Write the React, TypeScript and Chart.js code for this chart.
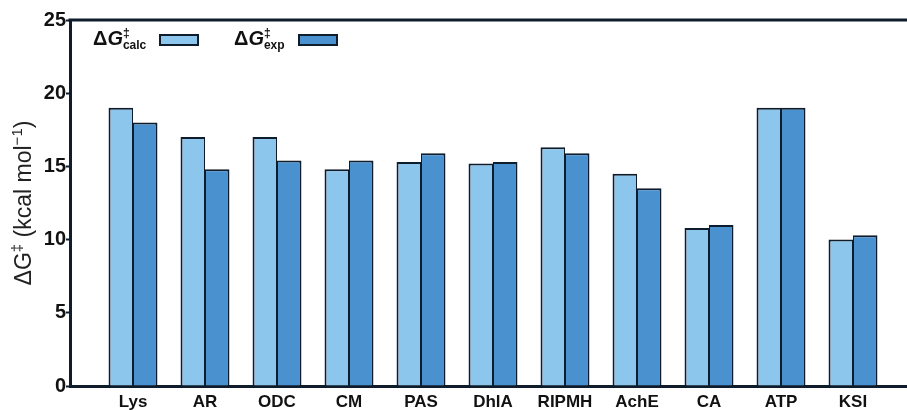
import React, { useEffect, useRef } from "react";
import { Chart, registerables } from "chart.js";

Chart.register(...registerables);

const categories = ["Lys", "AR", "ODC", "CM", "PAS", "DhlA", "RIPMH", "AchE", "CA", "ATP", "KSI"];
const calcValues = [19.0, 17.0, 17.0, 14.8, 15.3, 15.2, 16.3, 14.5, 10.8, 19.0, 10.0];
const expValues = [18.0, 14.8, 15.4, 15.4, 15.9, 15.3, 15.9, 13.5, 11.0, 19.0, 10.3];
const seriesSubscripts = ["calc", "exp"];
const yTicks = [0, 5, 10, 15, 20, 25];
// y-axis title pieces: [text, isSuperscript]
const yTitleParts: [string, boolean][] = [
  ["\u0394G", false],
  ["\u2021", true],
  [" (kcal mol", false],
  ["\u22121", true],
  [")", false],
];

const CALC_COLOR = "#8DC6EC";
const EXP_COLOR = "#4A91D0";
const DARK = "#0F1C2B";
const FONT = '"Liberation Sans", Arial, sans-serif';

const frameAndLegend = {
  id: "frameAndLegend",
  afterDraw(chart: any) {
    const { ctx, chartArea } = chart;
    ctx.save();
    // top frame line
    ctx.strokeStyle = DARK;
    ctx.lineWidth = 3;
    ctx.beginPath();
    ctx.moveTo(chartArea.left - 1.5, chartArea.top);
    ctx.lineTo(chart.width, chartArea.top);
    ctx.stroke();

    // legend
    const colors = [CALC_COLOR, EXP_COLOR];
    const starts = [93, 234];
    seriesSubscripts.forEach((sub, i) => {
      let x = chartArea.left + (starts[i] - 70);
      const base = chartArea.top + 25;
      ctx.fillStyle = "#111";
      ctx.textBaseline = "alphabetic";
      ctx.textAlign = "left";
      ctx.font = `bold 20px ${FONT}`;
      ctx.fillText("\u0394", x, base);
      x += ctx.measureText("\u0394").width;
      ctx.font = `italic bold 20px ${FONT}`;
      ctx.fillText("G", x, base);
      x += ctx.measureText("G").width;
      ctx.font = `bold 12px ${FONT}`;
      ctx.fillText("\u2021", x, base - 8);
      ctx.fillText(sub, x, base + 4);
      const boxX = chartArea.left + ((i === 0 ? 160 : 299) - 70);
      const boxY = chartArea.top + 15;
      ctx.fillStyle = colors[i];
      ctx.fillRect(boxX, boxY, 38, 10);
      ctx.lineWidth = 2;
      ctx.strokeStyle = DARK;
      ctx.strokeRect(boxX, boxY, 38, 10);
    });

    // y-axis title with superscripts
    const mainFont = `23px ${FONT}`;
    const supFont = `15px ${FONT}`;
    let total = 0;
    yTitleParts.forEach(([t, sup]) => {
      ctx.font = sup ? supFont : mainFont;
      total += ctx.measureText(t).width;
    });
    const centerY = (chartArea.top + chartArea.bottom) / 2;
    ctx.translate(31, centerY);
    ctx.rotate(-Math.PI / 2);
    ctx.fillStyle = "#222";
    ctx.textBaseline = "alphabetic";
    ctx.textAlign = "left";
    let pos = -total / 2;
    yTitleParts.forEach(([t, sup]) => {
      ctx.font = sup ? supFont : mainFont;
      ctx.fillText(t, pos, sup ? -9 : 0);
      pos += ctx.measureText(t).width;
    });
    ctx.restore();
  },
};

export default function App() {
  const canvasRef = useRef<HTMLCanvasElement | null>(null);

  useEffect(() => {
    if (!canvasRef.current) return;
    const chart = new Chart(canvasRef.current, {
      type: "bar",
      data: {
        datasets: [
          {
            label: "calc",
            data: calcValues.map((v, i) => ({ x: i + 1, y: v })),
            backgroundColor: CALC_COLOR,
            borderColor: DARK,
            borderWidth: { top: 2, left: 2, right: 1, bottom: 0 },
            borderSkipped: false,
            categoryPercentage: 0.68,
            barPercentage: 1,
          },
          {
            label: "exp",
            data: expValues.map((v, i) => ({ x: i + 1, y: v })),
            backgroundColor: EXP_COLOR,
            borderColor: DARK,
            borderWidth: { top: 2, left: 1, right: 2, bottom: 0 },
            borderSkipped: false,
            categoryPercentage: 0.68,
            barPercentage: 1,
          },
        ],
      },
      options: {
        animation: false,
        responsive: true,
        maintainAspectRatio: false,
        layout: { padding: { top: 20, right: 0, left: 0, bottom: 0 } },
        plugins: {
          legend: { display: false },
          tooltip: { enabled: false },
        },
        scales: {
          x: {
            type: "linear",
            offset: false,
            min: 0.125,
            max: 11.75,
            grid: { display: false, drawTicks: false, offset: false },
            border: { display: true, color: DARK, width: 3 },
            afterBuildTicks: (scale: any) => {
              scale.ticks = categories.map((_, i) => ({ value: i + 1 }));
            },
            afterFit: (scale: any) => {
              scale.height = 24;
            },
            ticks: {
              autoSkip: false,
              maxRotation: 0,
              padding: 6,
              color: "#111",
              font: { family: FONT, size: 17, weight: "bold" },
              callback: (v: any) => categories[Math.round(v) - 1] ?? "",
            },
          },
          y: {
            min: 0,
            max: 25,
            afterBuildTicks: (scale: any) => {
              scale.ticks = yTicks.map((v) => ({ value: v }));
            },
            afterFit: (scale: any) => {
              scale.width = 70;
            },
            grid: {
              drawOnChartArea: false,
              drawTicks: true,
              tickLength: 4,
              tickWidth: 2,
              tickColor: DARK,
            },
            border: { display: true, color: DARK, width: 3 },
            ticks: {
              padding: 0,
              color: "#111",
              font: { family: FONT, size: 20, weight: "bold" },
            },
            title: { display: false },
          },
        },
      },
      plugins: [frameAndLegend],
    });
    return () => chart.destroy();
  }, []);

  return (
    <div style={{ position: "fixed", left: 0, top: 0, width: 907, height: 410, background: "#fff" }}>
      <canvas ref={canvasRef} />
    </div>
  );
}
